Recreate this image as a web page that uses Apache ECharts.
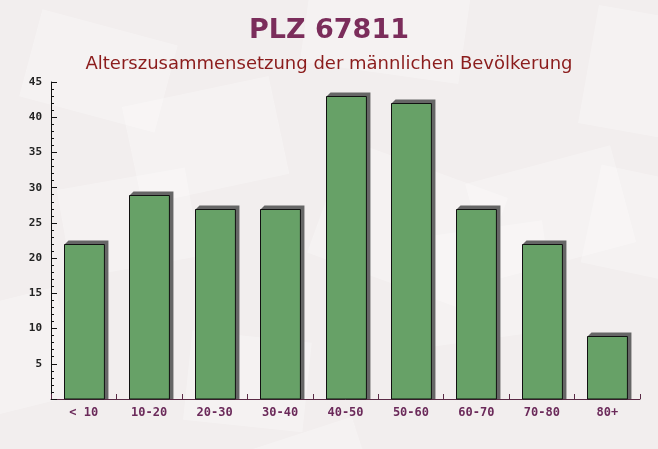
<!DOCTYPE html>
<html><head><meta charset="utf-8">
<script src="https://cdn.jsdelivr.net/npm/echarts@6/dist/echarts.min.js"></script>
<style>html,body{margin:0;padding:0;background:#f2eeee}#c{width:658px;height:449px}</style>
</head><body><div id="c"></div>
<script>
const categories = ['< 10','10-20','20-30','30-40','40-50','50-60','60-70','70-80','80+'];
const values = [22, 29, 27, 27, 43, 42, 27, 22, 9];
const yTicks = [0, 45, 5];
const titleText = 'PLZ 67811';
const subtitleText = 'Alterszusammensetzung der männlichen Bevölkerung';

const chart = echarts.init(document.getElementById('c'));
const wm = [];
const rects = [[20,30,140,90,-15],[140,60,150,100,12],[300,20,160,95,-8],[470,40,150,100,15],[560,110,120,120,-10],[90,160,130,90,10],[230,230,170,120,-20],[420,170,150,110,8],[520,280,140,100,-12],[10,290,130,110,14],[300,330,160,110,18],[150,350,120,90,-6]];
rects.forEach(r => wm.push({type:'rect', x:r[0], y:r[1], rotation:r[4]*Math.PI/180, originX:r[0]+r[2]/2, originY:r[1]+r[3]/2, shape:{width:r[2],height:r[3]}, style:{fill:'rgba(255,255,255,0.28)'}, silent:true, z:-10}));
chart.setOption({
  backgroundColor:'#f2eeee',
  animation:false,
  graphic: wm,
  title:[
    {text:titleText, left:'center', top:12, textStyle:{fontFamily:'DejaVu Sans', fontWeight:'bold', fontSize:27, color:'#7b2d5b'}},
    {text:subtitleText, left:'center', top:50, textStyle:{fontFamily:'DejaVu Sans', fontWeight:'normal', fontSize:18, color:'#8b1c1c'}}
  ],
  grid:{left:51, right:18, top:82, bottom:50},
  xAxis:{type:'category', data:categories,
    axisLine:{lineStyle:{color:'#5a2a45', width:1}},
    axisTick:{show:true, inside:true, length:5, lineStyle:{color:'#5a2a45'}},
    axisLabel:{fontFamily:'DejaVu Sans Mono', fontWeight:'bold', fontSize:12, color:'#6b2a5a', margin:8}},
  yAxis:{type:'value', min:yTicks[0], max:yTicks[1], interval:yTicks[2],
    axisLine:{show:true, lineStyle:{color:'#111'}},
    axisTick:{show:true, inside:true, length:6, lineStyle:{color:'#111'}},
    minorTick:{show:true, splitNumber:5, length:3, lineStyle:{color:'#111'}},
    splitLine:{show:false},
    axisLabel:{fontFamily:'DejaVu Sans Mono', fontWeight:'bold', fontSize:11, color:'#222', margin:9,
      formatter:v => v===0 ? '' : String(v)}},
  series:[{
    type:'custom',
    data: values.map((v,i)=>[i,v]),
    renderItem:(params, api)=>{
      const top = api.coord([api.value(0), api.value(1)]);
      const base = api.coord([api.value(0), 0]);
      const w = api.size([1,0])[0]*0.61;
      const l = Math.round(top[0]-w/2)+0.5, t = Math.round(top[1])+0.5, b = base[1];
      const d = 4;
      return {type:'group', children:[
        {type:'polygon', shape:{points:[[l,t],[l+d,t-d],[l+w+d,t-d],[l+w+d,b],[l+w,b]]}, style:{fill:'#666'}},
        {type:'rect', shape:{x:l, y:t, width:w, height:b-t}, style:{fill:'#67a167', stroke:'#111', lineWidth:1}}
      ]};
    }
  }]
});
</script></body></html>
